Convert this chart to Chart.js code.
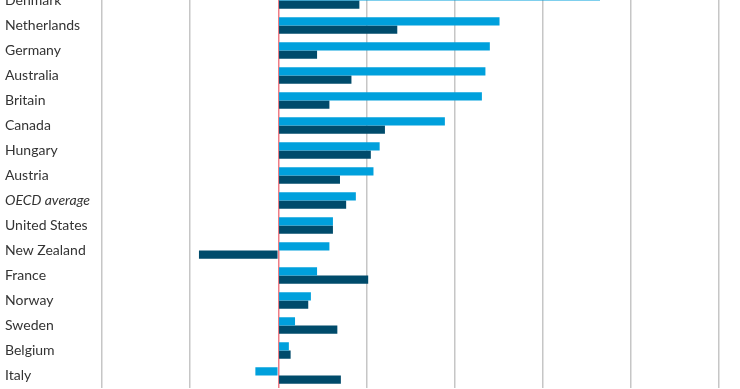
<!DOCTYPE html>
<html>
<head>
<meta charset="utf-8">
<script src="https://cdn.jsdelivr.net/npm/chart.js@4"></script>
<style>
  html, body { margin: 0; padding: 0; background: #ffffff; overflow: hidden; }
  #wrap { position: absolute; left: 0; top: -12px; width: 740px; height: 400px; }
</style>
</head>
<body>
<div id="wrap"><canvas id="c"></canvas></div>
<script>
const categories = ["Denmark", "Netherlands", "Germany", "Australia", "Britain", "Canada", "Hungary", "Austria", "OECD average", "United States", "New Zealand", "France", "Norway", "Sweden", "Belgium", "Italy"];
const seriesLight = [36.5, 25.1, 24.0, 23.5, 23.1, 18.9, 11.5, 10.8, 8.8, 6.2, 5.8, 4.4, 3.7, 1.9, 1.2, -2.6];
const seriesDark = [9.2, 13.5, 4.4, 8.3, 5.8, 12.1, 10.5, 7.0, 7.7, 6.2, -9.0, 10.2, 3.4, 6.7, 1.4, 7.1];
const xMin = -20, xMax = 50, xStep = 10;

new Chart(document.getElementById('c'), {
  type: 'bar',
  data: {
    labels: categories,
    datasets: [
      { data: seriesLight, backgroundColor: '#00a0dc', borderWidth: 0 },
      { data: seriesDark, backgroundColor: '#004b6b', borderWidth: 0 }
    ]
  },
  options: {
    indexAxis: 'y',
    responsive: true,
    maintainAspectRatio: false,
    animation: false,
    layout: { padding: { left: 5, right: 21, top: 0, bottom: 0 } },
    datasets: { bar: { categoryPercentage: 0.66, barPercentage: 1.0 } },
    plugins: { legend: { display: false }, tooltip: { enabled: false } },
    scales: {
      x: {
        min: xMin, max: xMax,
        ticks: { display: false, stepSize: xStep, padding: 0 },
        border: { display: false },
        afterFit: (scale) => { scale.height = 0; scale.paddingTop = 0; scale.paddingBottom = 0; scale.paddingLeft = 0; scale.paddingRight = 0; },
        grid: {
          drawTicks: false,
          lineWidth: 1.5,
          color: (ctx) => (ctx.tick && ctx.tick.value === 0) ? '#ee7d86' : '#c6c6c6'
        }
      },
      y: {
        border: { display: false },
        grid: { display: false, drawTicks: false },
        afterFit: (scale) => { scale.width = 97; scale.paddingTop = 0; scale.paddingBottom = 0; },
        ticks: {
          crossAlign: 'far',
          padding: 0,
          color: '#333333',
          font: (ctx) => ({
            family: 'Lato',
            size: 14,
            style: (ctx.tick && ctx.tick.label === 'OECD average') ? 'italic' : 'normal'
          })
        }
      }
    }
  }
});
</script>
</body>
</html>
